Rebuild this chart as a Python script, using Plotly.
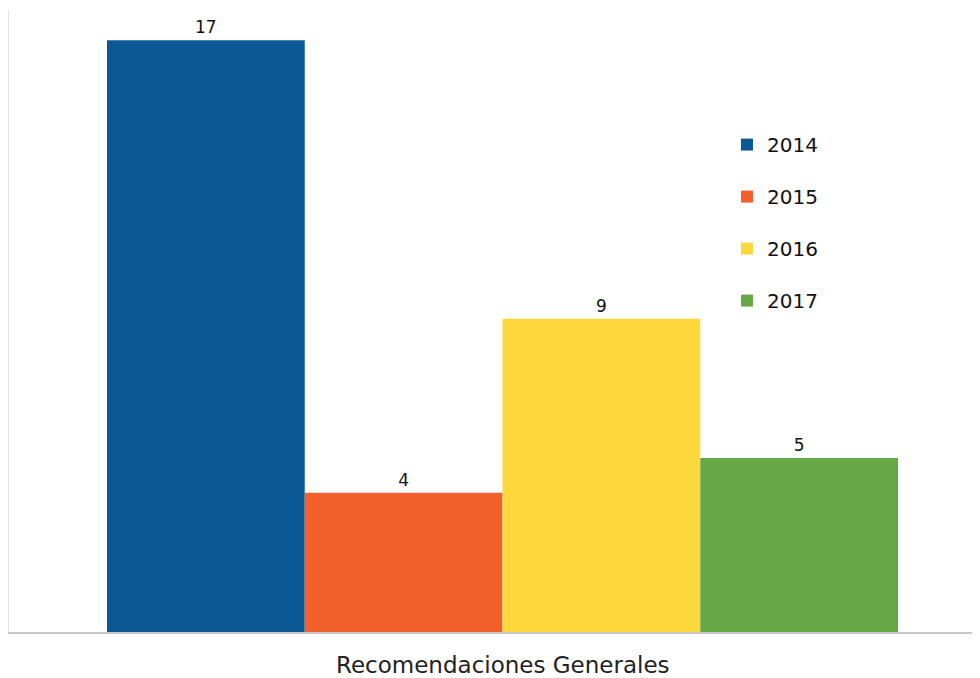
import plotly.graph_objects as go

category = ["Recomendaciones Generales"]
years = ["2014", "2015", "2016", "2017"]
values = [17, 4, 9, 5]
colors = ["#0B5894", "#F1602A", "#FCD83C", "#66A845"]

FONT = "DejaVu Sans, Verdana, sans-serif"

fig = go.Figure()
for yr, v, c in zip(years, values, colors):
    fig.add_trace(go.Bar(
        x=[0], y=[v], name=yr, marker=dict(color=c, line=dict(width=0)),
        text=[str(v)], textposition="outside", cliponaxis=False,
        textfont=dict(size=17, color="#111111", family=FONT),
        legendgroup=yr,
    ))

fig.update_layout(
    width=972, height=670,
    margin=dict(l=1, r=0, t=2, b=46),
    barmode="group", bargap=0.2, bargroupgap=0,
    plot_bgcolor="white", paper_bgcolor="white",
    font=dict(family=FONT, size=20, color="#111111"),
    xaxis=dict(range=[-0.4991, 0.4829], showticklabels=False, showgrid=False, zeroline=False,
               showline=True, linecolor="#C8C8C8", linewidth=2, ticks="", fixedrange=True),
    yaxis=dict(range=[0, 17.87], showticklabels=False, showgrid=False, zeroline=False,
               showline=True, linecolor="#E4E4E4", linewidth=2, ticks=""),
    legend=dict(x=0.7394, y=0.815, xanchor="left", yanchor="top", traceorder="grouped",
                tracegroupgap=23, font=dict(size=20, family=FONT), bgcolor="rgba(0,0,0,0)"),
    annotations=[dict(text=category[0], x=0, xref="x", y=-0.053, yref="paper",
                      yanchor="middle", showarrow=False,
                      font=dict(size=23, color="#222222", family=FONT))],
)

fig.write_html("out.html")
